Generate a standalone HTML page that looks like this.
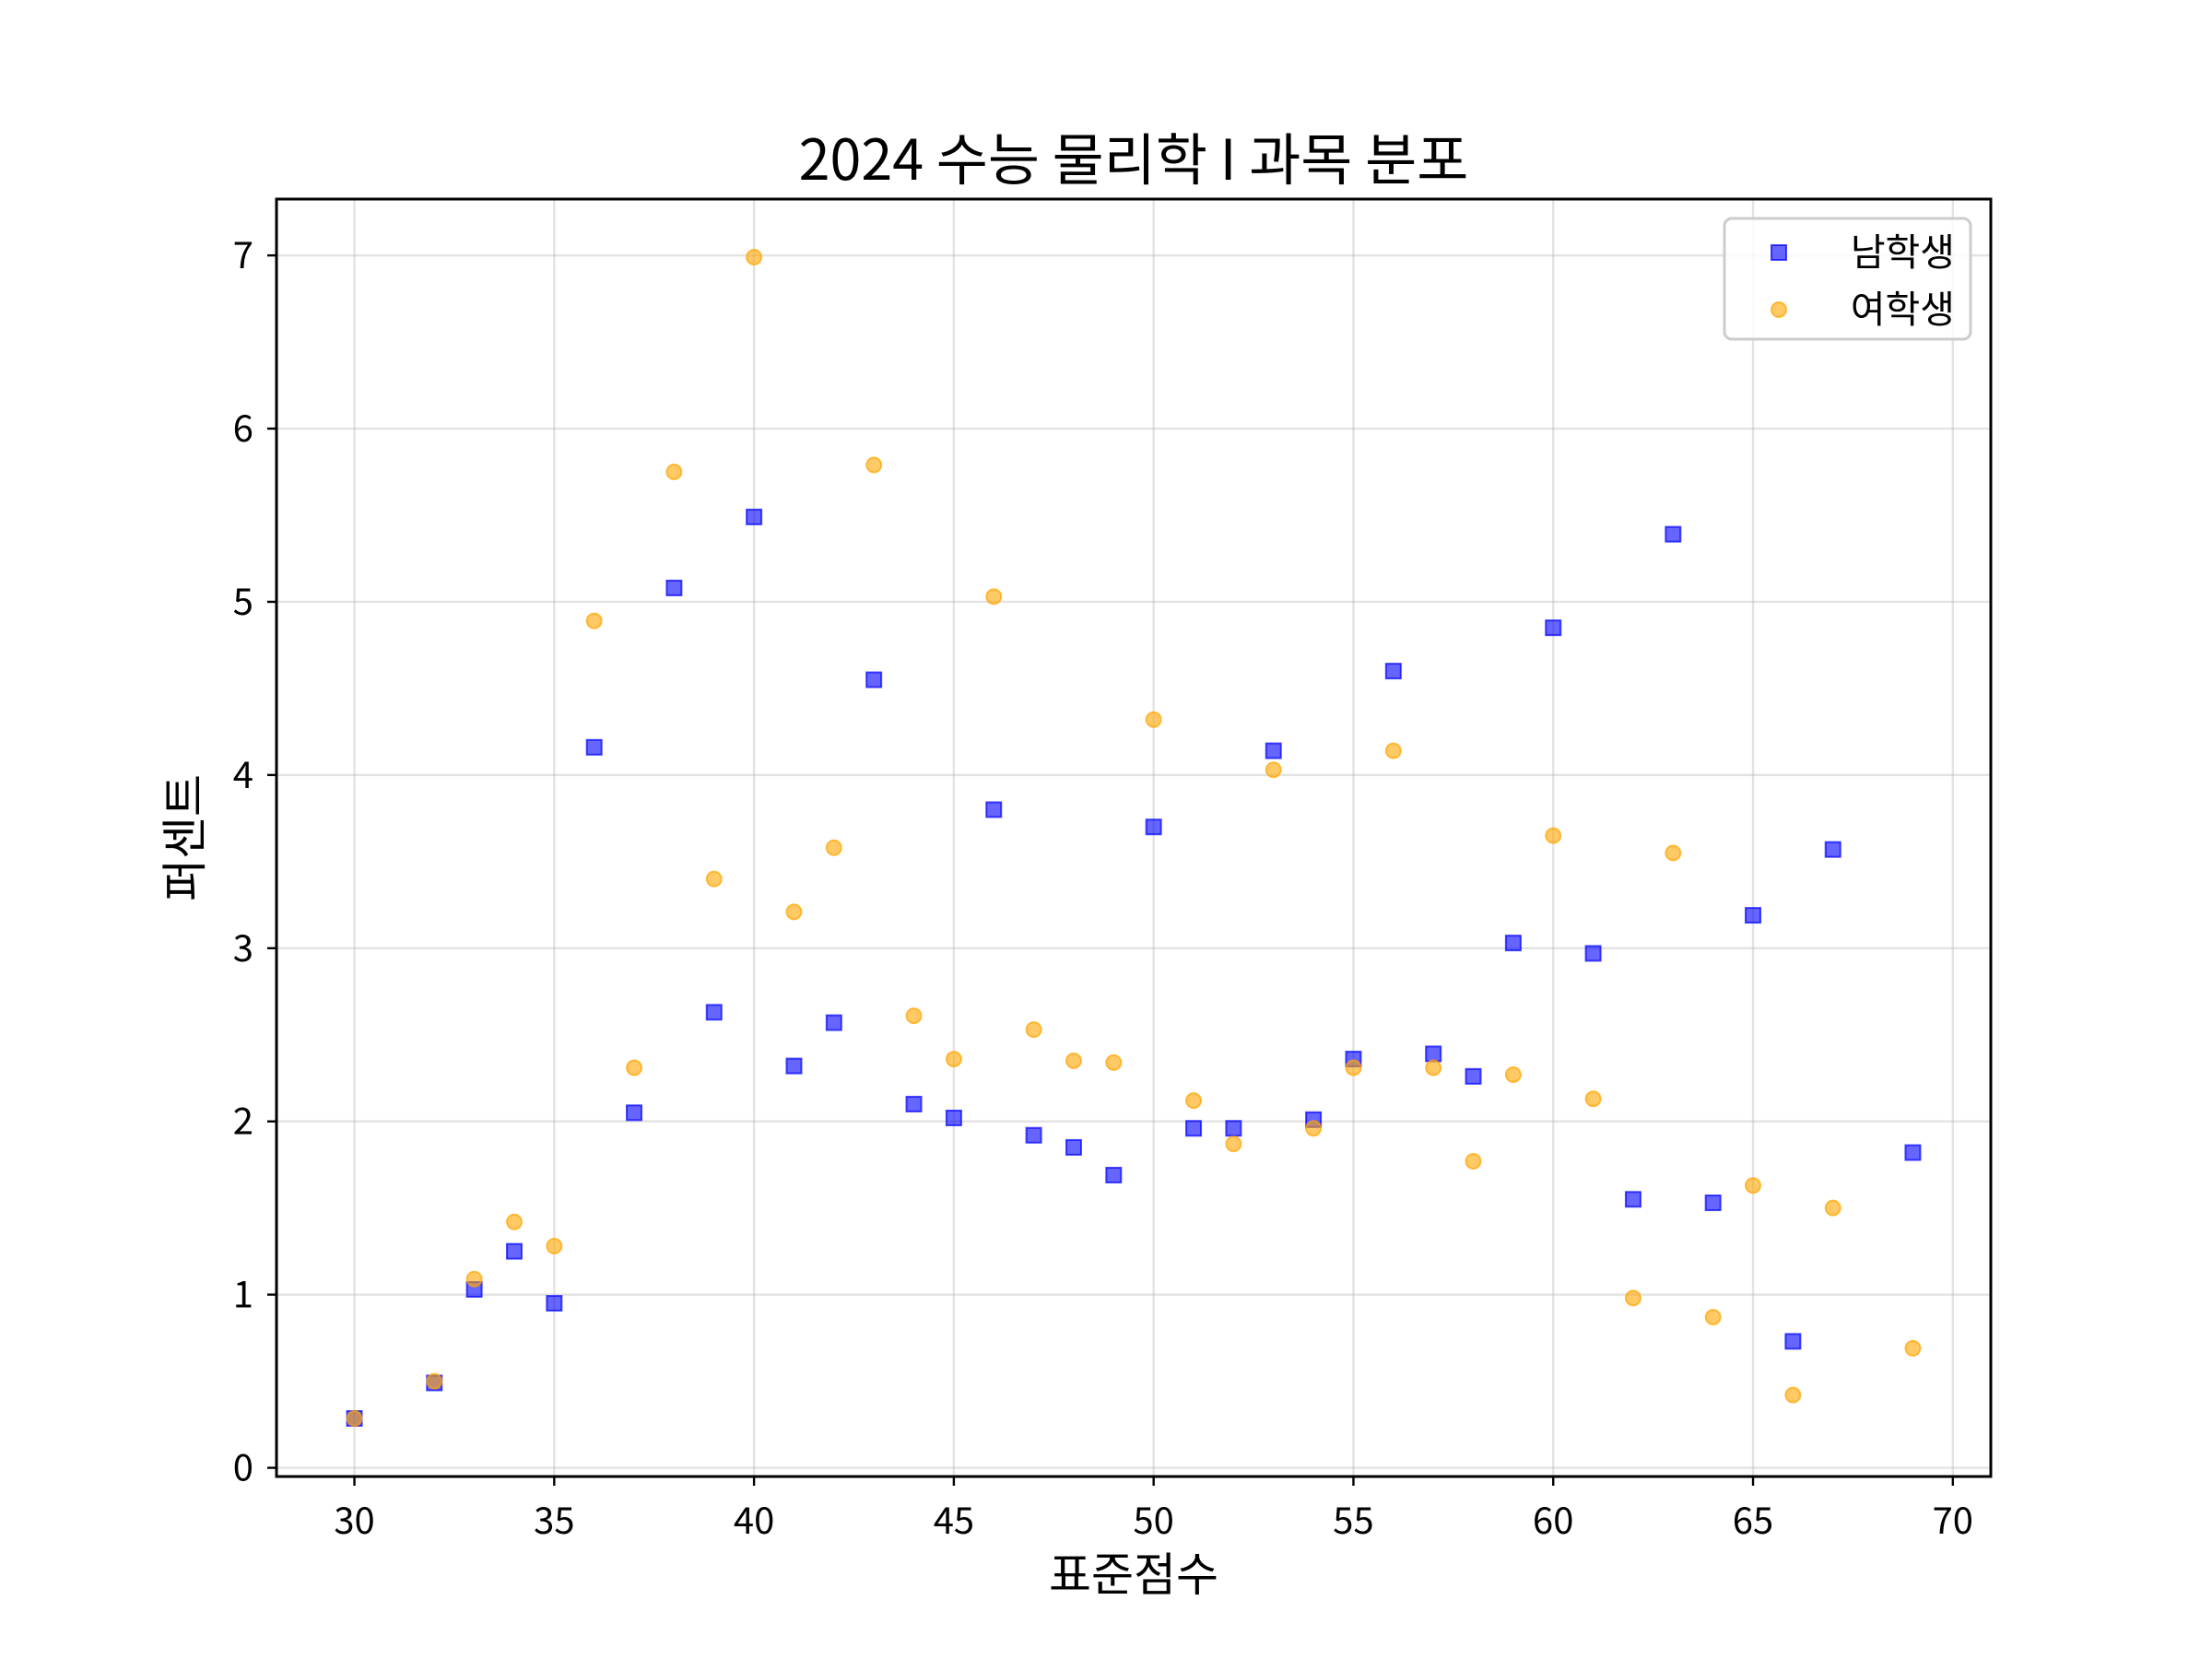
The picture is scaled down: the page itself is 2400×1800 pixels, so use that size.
<!DOCTYPE html>
<html><head><meta charset="utf-8"><style>
body{margin:0;background:#fff}
svg{display:block;font-family:"Noto Sans CJK KR","Liberation Sans",sans-serif}
</style></head><body>
<svg id="chart" width="2400" height="1800" viewBox="0 0 2400 1800" xmlns="http://www.w3.org/2000/svg">
<rect width="2400" height="1800" fill="#fff"/>
<g id="grid"></g><g id="marks"></g><g id="ticks"></g>
<rect x="300" y="216" width="1860" height="1386" fill="none" stroke="#000" stroke-width="3"/>
<text x="1230" y="195" text-anchor="middle" font-size="61">2024 수능 물리학 I 과목 분포</text>
<text x="1230" y="1726" text-anchor="middle" font-size="50">표준점수</text>
<text transform="translate(218,909) rotate(-90)" text-anchor="middle" font-size="50">퍼센트</text>
<g>
<rect x="1871" y="237" width="267" height="131" rx="8" fill="#fff" fill-opacity="0.8" stroke="#ccc" stroke-width="3"/>
<rect x="1922" y="266" width="16" height="16" fill="rgba(0,0,255,0.6)" stroke="rgba(0,0,255,0.7)" stroke-width="2"/>
<text x="2121" y="288" text-anchor="end" font-size="41">남학생</text>
<circle cx="1930" cy="336" r="8" fill="rgba(255,165,0,0.6)" stroke="rgba(255,165,0,0.7)" stroke-width="2"/>
<text x="2121" y="350" text-anchor="end" font-size="41">여학생</text>
</g>
</svg>
<script>
const scores=[30,32,33,34,35,36,37,38,39,40,41,42,43,44,45,46,47,48,49,50,51,52,53,54,55,56,57,58,59,60,61,62,63,64,65,66,67,69];
const maleValues=[0.285,0.49,1.03,1.25,0.95,4.16,2.05,5.08,2.63,5.49,2.32,2.57,4.55,2.10,2.02,3.80,1.92,1.85,1.69,3.70,1.96,1.96,4.14,2.01,2.36,4.60,2.39,2.26,3.03,4.85,2.97,1.55,5.39,1.53,3.19,0.73,3.57,1.82];
const femaleValues=[0.285,0.50,1.09,1.42,1.28,4.89,2.31,5.75,3.40,6.99,3.21,3.58,5.79,2.61,2.36,5.03,2.53,2.35,2.34,4.32,2.12,1.87,4.03,1.96,2.31,4.14,2.31,1.77,2.27,3.65,2.13,0.98,3.55,0.87,1.63,0.42,1.50,0.69];
const xTicks=[30,35,40,45,50,55,60,65,70];
const yTicks=[0,1,2,3,4,5,6,7];
const NS="http://www.w3.org/2000/svg";
const all=maleValues.concat(femaleValues);
const xmin0=Math.min(...scores),xmax0=Math.max(...scores);
const ymin0=Math.min(...all),ymax0=Math.max(...all);
const xm=(xmax0-xmin0)*0.05,ym=(ymax0-ymin0)*0.05;
const X0=300,X1=2160,Y0=1602,Y1=216;
const sx=v=>X0+(v-(xmin0-xm))/((xmax0+xm)-(xmin0-xm))*(X1-X0);
const sy=v=>Y0-(v-(ymin0-ym))/((ymax0+ym)-(ymin0-ym))*(Y0-Y1);
function mk(tag,attrs,parent){const e=document.createElementNS(NS,tag);for(const k in attrs)e.setAttribute(k,attrs[k]);parent.appendChild(e);return e;}
const grid=document.getElementById('grid'),ticks=document.getElementById('ticks'),marks=document.getElementById('marks');
xTicks.forEach(t=>{const x=sx(t);
const g=mk('line',{x1:x,x2:x,y1:Y1,y2:Y0,stroke:'#b0b0b0','stroke-opacity':0.35,'stroke-width':2.4},grid);


const tk=mk('line',{x1:x,x2:x,y1:Y0,y2:Y0+10,stroke:'#000','stroke-width':2.4},ticks);


const tx=mk('text',{x:x,y:1664,'text-anchor':'middle','font-size':40},ticks);tx.textContent=t;

});
yTicks.forEach(t=>{const y=sy(t);
const g=mk('line',{x1:X0,x2:X1,y1:y,y2:y,stroke:'#b0b0b0','stroke-opacity':0.35,'stroke-width':2.4},grid);


const tk=mk('line',{x1:X0-10,x2:X0,y1:y,y2:y,stroke:'#000','stroke-width':2.4},ticks);


const tx=mk('text',{x:275,y:y+14,'text-anchor':'end','font-size':40},ticks);tx.textContent=t;

});
scores.forEach((s,i)=>{
const r=mk('rect',{x:sx(s)-8,y:sy(maleValues[i])-8,width:16,height:16,fill:'rgba(0,0,255,0.6)',stroke:'rgba(0,0,255,0.7)','stroke-width':2},marks);

});
scores.forEach((s,i)=>{
const c=mk('circle',{cx:sx(s),cy:sy(femaleValues[i]),r:8,fill:'rgba(255,165,0,0.6)',stroke:'rgba(255,165,0,0.7)','stroke-width':2},marks);

});
</script>
</body></html>
